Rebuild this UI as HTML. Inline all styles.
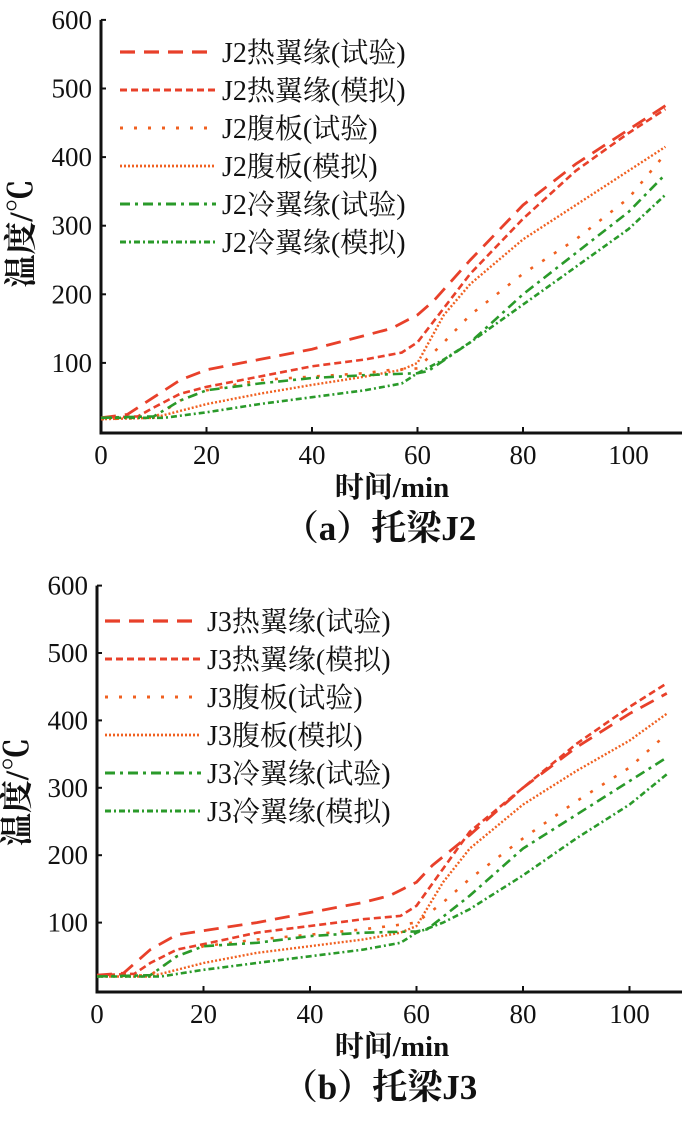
<!DOCTYPE html>
<html><head><meta charset="utf-8">
<style>
html,body{margin:0;padding:0;background:#fff;}
svg{display:block;}
text{font-family:"Liberation Serif","Noto Serif CJK SC",serif;fill:#111;}
</style></head>
<body>
<svg id="fig" width="700" height="1124" viewBox="0 0 700 1124" xmlns="http://www.w3.org/2000/svg"></svg>
<script>
// ---- data (chart a: J2) ----
const aHotExpX=[0,5,10,15,20,30,40,50,55,60,63,70,80,90,100,107];
const aHotExpY=[20,25,50,75,90,105,120,140,150,170,190,250,330,390,440,475];
const aHotSimX=[0,7,10,15,20,30,40,50,57,60,65,70,80,90,100,107];
const aHotSimY=[20,22,35,55,65,80,95,105,115,130,180,230,310,380,435,470];
const aWebExpX=[0,10,15,20,30,40,50,55,60,65,70,80,90,100,107];
const aWebExpY=[18,20,45,60,75,80,85,90,92,130,170,230,280,340,405];
const aWebSimX=[0,10,15,20,30,40,50,57,60,65,70,80,90,100,107];
const aWebSimY=[18,20,30,40,55,68,80,90,100,170,215,280,330,380,415];
const aColdExpX=[0,10,15,20,30,40,50,60,62,70,80,90,100,107];
const aColdExpY=[20,22,45,60,70,78,82,85,88,130,200,260,320,375];
const aColdSimX=[0,12,20,30,40,50,57,60,65,70,80,90,100,107];
const aColdSimY=[20,20,28,40,50,60,70,85,105,130,185,240,295,345];
// ---- data (chart b: J3) ----
const bHotExpX=[0,5,10,15,20,30,40,50,55,60,63,70,80,90,100,107];
const bHotExpY=[22,25,60,82,88,100,115,130,140,160,185,230,300,360,410,440];
const bHotSimX=[0,7,10,15,20,30,40,50,57,60,65,70,80,90,100,107];
const bHotSimY=[22,24,40,60,68,85,95,105,110,125,180,235,300,365,420,455];
const bWebExpX=[0,10,15,20,30,40,50,55,60,65,70,80,90,100,107];
const bWebExpY=[20,22,50,65,75,82,90,95,100,130,165,225,280,330,380];
const bWebSimX=[0,10,15,20,30,40,50,57,60,65,70,80,90,100,107];
const bWebSimY=[20,20,30,40,55,65,75,85,95,160,210,275,325,370,410];
const bColdExpX=[0,10,15,20,30,40,50,60,62,70,80,90,100,107];
const bColdExpY=[20,22,50,65,70,80,85,87,90,140,210,260,310,345];
const bColdSimX=[0,12,20,30,40,50,57,60,65,70,80,90,100,107];
const bColdSimY=[20,20,30,40,50,60,70,85,100,120,170,225,275,320];
const xTicks=[0,20,40,60,80,100];
const yTicks=[100,200,300,400,500,600];
const seriesLabels=["热翼缘(试验)","热翼缘(模拟)","腹板(试验)","腹板(模拟)","冷翼缘(试验)","冷翼缘(模拟)"];

const NS="http://www.w3.org/2000/svg";
const svg=document.getElementById('fig');
function mk(tag,attrs,parent){const e=document.createElementNS(NS,tag);for(const k in attrs)e.setAttribute(k,attrs[k]);(parent||svg).appendChild(e);return e;}

const styles=[
 {c:"#e8402a",w:2.8,d:"15 9"},
 {c:"#e8402a",w:2.6,d:"7 4"},
 {c:"#f06020",w:2.6,d:"3 11"},
 {c:"#f06020",w:2.4,d:"2 2"},
 {c:"#2a9a2a",w:2.6,d:"10 5 3 5"},
 {c:"#2a9a2a",w:2.6,d:"6 3 2 3"}
];

function chart(cfg){
 const g=mk('g',{});
 
 
 const X=v=>cfg.x0+(v/20)*cfg.xs;
 const Y=v=>cfg.y0-(v/100)*cfg.ys;
 const ax=mk('path',{d:`M${cfg.x0} ${Y(600)} L${cfg.x0} ${cfg.axY} L${cfg.xEnd} ${cfg.axY}`,stroke:"#111","stroke-width":3,fill:"none"},g);
 
 
 xTicks.forEach(t=>{
  mk('line',{x1:X(t),x2:X(t),y1:cfg.axY,y2:cfg.axY-6,stroke:"#111","stroke-width":2},g);
  const tx=mk('text',{x:X(t),y:cfg.axY+31,"font-size":27,"text-anchor":"middle"},g);
  tx.textContent=t;
  
  
 });
 yTicks.forEach(t=>{
  mk('line',{x1:cfg.x0,x2:cfg.x0+5,y1:Y(t),y2:Y(t),stroke:"#111","stroke-width":2},g);
  const tx=mk('text',{x:cfg.x0-9,y:Y(t)+9,"font-size":27,"text-anchor":"end"},g);
  tx.textContent=t;
  
  
 });
 const yt=mk('text',{x:0,y:0,"font-size":33,"font-weight":"bold","text-anchor":"middle",transform:`translate(${cfg.x0-69},${cfg.y0-198}) rotate(-90)`},g);
 yt.textContent="温度/℃";
 
 
 const xt=mk('text',{x:392,y:cfg.axY+64,"font-size":29,"font-weight":"bold","text-anchor":"middle"},g);
 xt.textContent="时间/min";
 
 
 const cap=mk('text',{x:380,y:cfg.axY+107,"font-size":35,"font-weight":"bold","text-anchor":"middle"},g);
 cap.textContent=cfg.caption;
 
 
 cfg.series.forEach((s,i)=>{
  const st=styles[i];
  const d=s[0].map((x,k)=>(k?'L':'M')+X(x).toFixed(1)+' '+Y(s[1][k]).toFixed(1)).join(' ');
  const p=mk('path',{d:d,stroke:st.c,"stroke-width":st.w,"stroke-dasharray":st.d,fill:"none"},g);
  
  
  const ly=cfg.legY+i*38;
  const ll=mk('line',{x1:cfg.legX,x2:cfg.legX+96,y1:ly,y2:ly,stroke:st.c,"stroke-width":st.w+0.4,"stroke-dasharray":st.d},g);
  
  
  const lt=mk('text',{x:cfg.legX+102,y:ly+10,"font-size":28},g);
  lt.textContent=cfg.prefix+seriesLabels[i];
  
  
 });
}
chart({name:'chart-j2',x0:101,xs:105.5,y0:431.5,ys:68.6,axY:433,xEnd:682,legX:120,legY:52,prefix:"J2",caption:"（a）托梁J2",
 series:[[aHotExpX,aHotExpY],[aHotSimX,aHotSimY],[aWebExpX,aWebExpY],[aWebSimX,aWebSimY],[aColdExpX,aColdExpY],[aColdSimX,aColdSimY]]});
chart({name:'chart-j3',x0:97,xs:106.5,y0:990,ys:67.4,axY:992,xEnd:682,legX:105,legY:621,prefix:"J3",caption:"（b）托梁J3",
 series:[[bHotExpX,bHotExpY],[bHotSimX,bHotSimY],[bWebExpX,bWebExpY],[bWebSimX,bWebSimY],[bColdExpX,bColdExpY],[bColdSimX,bColdSimY]]});
</script>
</body></html>
